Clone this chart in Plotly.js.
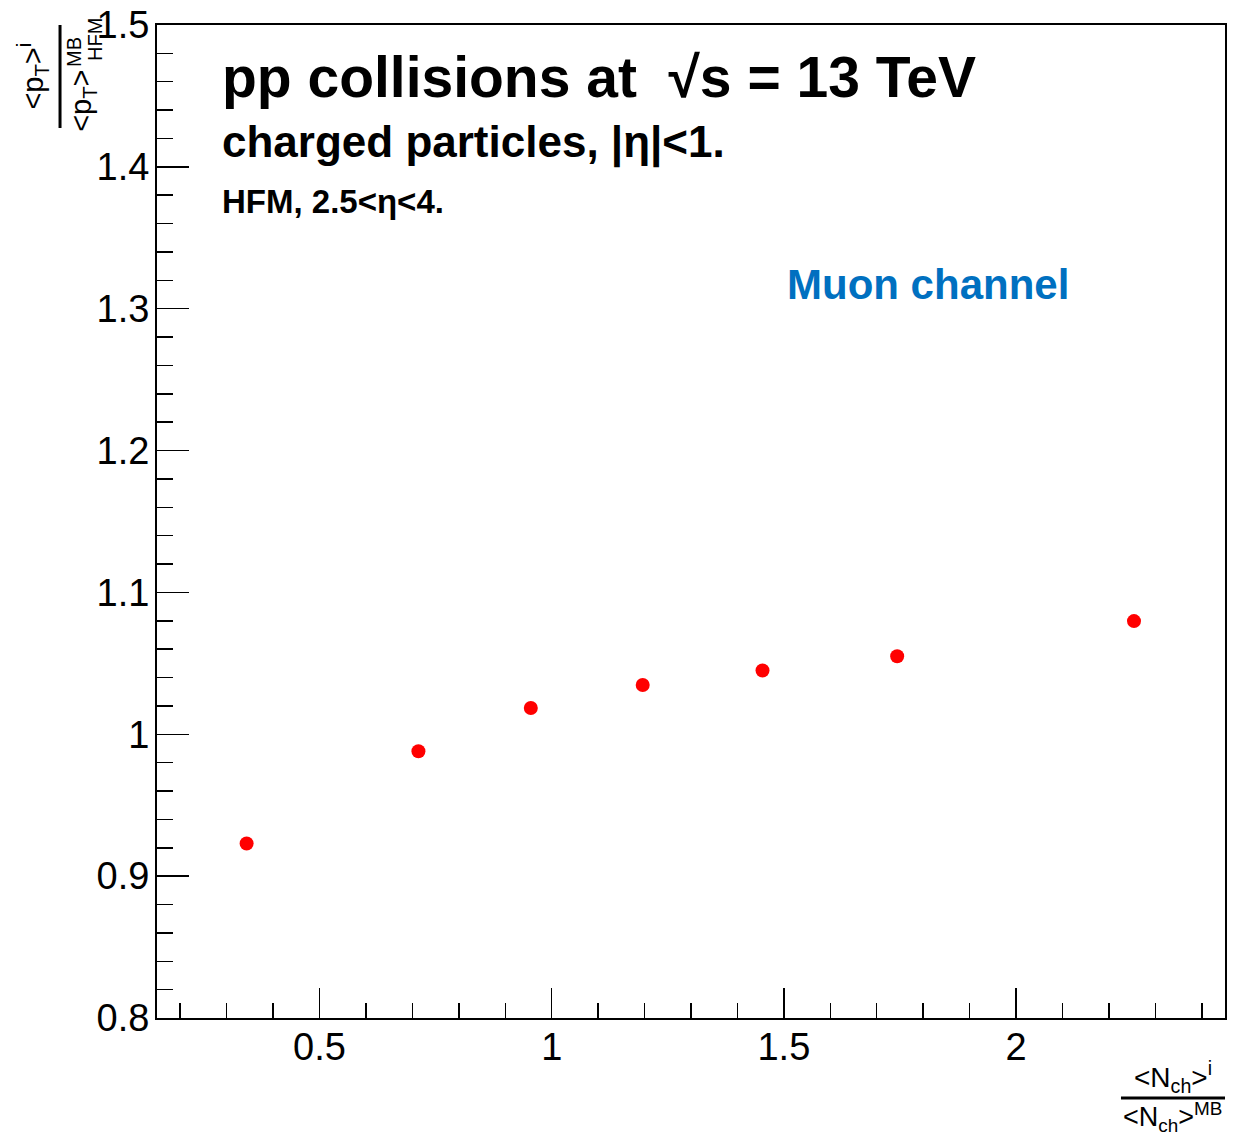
<!DOCTYPE html>
<html>
<head>
<meta charset="utf-8">
<script src="https://cdn.plot.ly/plotly-3.0.1.min.js"></script>
<style>html,body{margin:0;padding:0;background:#fff;}#plot{width:1235px;height:1137px;}</style>
</head>
<body>
<div id="plot"></div>
<script>
// Data
const nchRatio = [0.343, 0.713, 0.955, 1.196, 1.454, 1.744, 2.254];
const ptRatio  = [0.923, 0.988, 1.0185, 1.0347, 1.045, 1.055, 1.0798];

const xTickVals = [0.5, 1, 1.5, 2];
const yTickVals = [0.8, 0.9, 1.0, 1.1, 1.2, 1.3, 1.4, 1.5];

const titleLines = [
  "pp collisions at  √s = 13 TeV",
  "charged particles, |η|<1.",
  "HFM, 2.5<η<4."
];
const channelLabel = "Muon channel";

const F = "Liberation Sans, Arial, Helvetica, sans-serif";

const trace = {
  x: nchRatio, y: ptRatio, type: 'scatter', mode: 'markers',
  marker: {color: '#ff0000', size: 14, symbol: 'circle'},
  showlegend: false, hoverinfo: 'skip'
};

const layout = {
  width: 1235, height: 1137,
  margin: {l: 157, r: 10, t: 25, b: 119},
  paper_bgcolor: '#fff', plot_bgcolor: '#fff',
  showlegend: false,
  font: {family: F, color: '#000'},
  xaxis: {
    range: [0.15, 2.45], showgrid: false, zeroline: false,
    showline: true, linecolor: '#000', linewidth: 2, mirror: true,
    ticks: 'inside', ticklen: 30, tickwidth: 1.5, tickcolor: '#000',
    tickmode: 'array', tickvals: xTickVals, ticklabelstandoff: -6,
    tickfont: {family: F, size: 38, color: '#000'},
    minor: {ticks: 'inside', ticklen: 15, tickwidth: 1.5, tickcolor: '#000', dtick: 0.1, showgrid: false}
  },
  yaxis: {
    range: [0.8, 1.5], showgrid: false, zeroline: false,
    showline: true, linecolor: '#000', linewidth: 2, mirror: true,
    ticks: 'inside', ticklen: 32, tickwidth: 1.5, tickcolor: '#000',
    tickmode: 'array', tickvals: yTickVals, ticklabelstandoff: -2,
    tickfont: {family: F, size: 38, color: '#000'},
    minor: {ticks: 'inside', ticklen: 16, tickwidth: 1.5, tickcolor: '#000', dtick: 0.02, showgrid: false}
  },
  annotations: [
    {text: '<b>' + titleLines[0] + '</b>', xref: 'paper', yref: 'paper', x: 0.059, y: 0.948,
     xanchor: 'left', yanchor: 'middle', showarrow: false, font: {family: F, size: 57, color: '#000'}},
    {text: '<b>' + titleLines[1] + '</b>', xref: 'paper', yref: 'paper', x: 0.059, y: 0.882,
     xanchor: 'left', yanchor: 'middle', showarrow: false, font: {family: F, size: 44, color: '#000'}},
    {text: '<b>' + titleLines[2] + '</b>', xref: 'paper', yref: 'paper', x: 0.059, y: 0.8227,
     xanchor: 'left', yanchor: 'middle', showarrow: false, font: {family: F, size: 33, color: '#000'}},
    {text: '<b>' + channelLabel + '</b>', xref: 'paper', yref: 'paper', x: 0.588, y: 0.739,
     xanchor: 'left', yanchor: 'middle', showarrow: false, font: {family: F, size: 42, color: '#0070c0'}},
    // y-axis title (fraction)
    {text: '<p<sub>T</sub>><sup>i</sup>', xref: 'paper', yref: 'paper', x: -0.1165, y: 0.9486,
     xanchor: 'center', yanchor: 'middle', textangle: -90, showarrow: false, font: {family: F, size: 29, color: '#000'}},
    {text: '<p<sub>T</sub>>', xref: 'paper', yref: 'paper', x: -0.0694, y: 0.9235,
     xanchor: 'center', yanchor: 'middle', textangle: -90, showarrow: false, font: {family: F, size: 29, color: '#000'}},
    {text: 'MB', xref: 'paper', yref: 'paper', x: -0.0777, y: 0.9728,
     xanchor: 'center', yanchor: 'middle', textangle: -90, showarrow: false, font: {family: F, size: 20, color: '#000'}},
    {text: 'HFM', xref: 'paper', yref: 'paper', x: -0.0581, y: 0.9859,
     xanchor: 'center', yanchor: 'middle', textangle: -90, showarrow: false, font: {family: F, size: 20, color: '#000'}},
    // x-axis title (fraction)
    {text: '<N<sub>ch</sub>><sup>i</sup>', xref: 'paper', yref: 'paper', x: 0.951, y: -0.0594,
     xanchor: 'center', yanchor: 'middle', showarrow: false, font: {family: F, size: 28, color: '#000'}},
    {text: '<N<sub>ch</sub>><sup>MB</sup>', xref: 'paper', yref: 'paper', x: 0.951, y: -0.0995,
     xanchor: 'center', yanchor: 'middle', showarrow: false, font: {family: F, size: 27, color: '#000'}}
  ],
  shapes: [
    {type: 'line', xref: 'paper', yref: 'paper', x0: -0.0908, x1: -0.0908, y0: 1.0, y1: 0.8963,
     line: {color: '#000', width: 3}},
    {type: 'line', xref: 'paper', yref: 'paper', x0: 0.9026, x1: 1.0, y0: -0.0806, y1: -0.0806,
     line: {color: '#000', width: 3}}
  ]
};

Plotly.newPlot('plot', [trace], layout, {staticPlot: true, displayModeBar: false});
</script>
</body>
</html>
